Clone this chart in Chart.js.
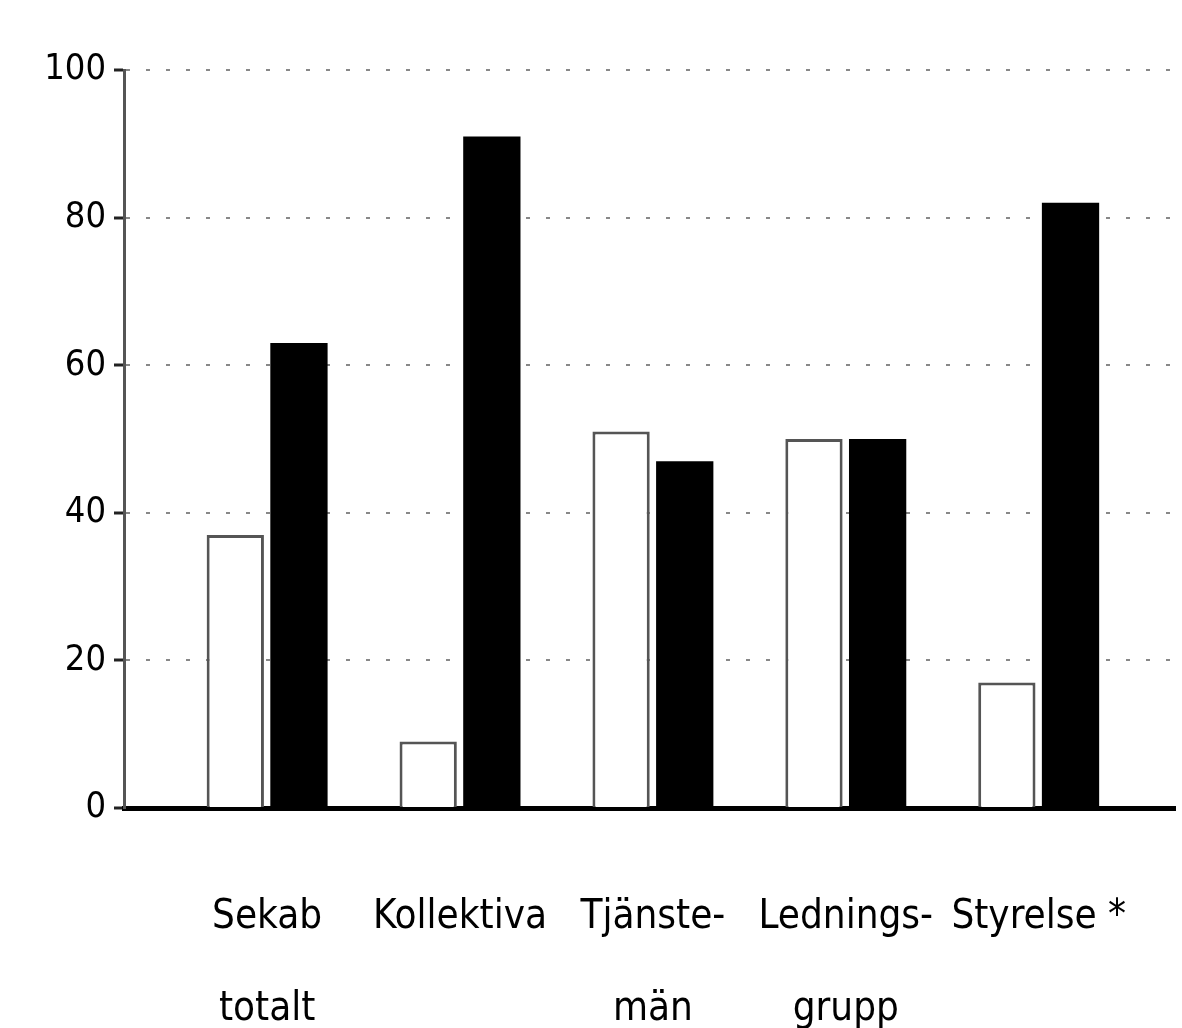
<!DOCTYPE html>
<html>
<head>
<meta charset="utf-8">
<script src="https://cdn.jsdelivr.net/npm/chart.js@4"></script>
<style>
  html, body { margin: 0; padding: 0; background: #fff; }
  #wrap { width: 1182px; height: 1028px; }
</style>
</head>
<body>
<div id="wrap"><canvas id="myChart"></canvas></div>
<script>
// categories (two-line labels as in the original)
const categories = [['Sekab', 'totalt'], ['Kollektiva'], ['Tjänste-', 'män'], ['Lednings-', 'grupp'], ['Styrelse *']];
// white bars and black bars, in percent
const whiteValues = [37, 9, 51, 50, 17];
const blackValues = [63, 91, 47, 50, 82];
const yTicks = [0, 20, 40, 60, 80, 100];

const font = "'Liberation Sans Narrow', 'DejaVu Sans Condensed', sans-serif";

function points(vals) {
  return vals.map(function (v, i) { return { x: i, y: v }; });
}

var ctx = document.getElementById('myChart').getContext('2d');
var myChart = new Chart(ctx, {
  type: 'bar',
  data: {
    datasets: [{
      data: points(whiteValues),
      backgroundColor: '#fff',
      borderColor: '#555',
      borderWidth: 3,
      borderSkipped: 'bottom',
      categoryPercentage: 0.66,
      barPercentage: 0.9
    }, {
      data: points(blackValues),
      backgroundColor: '#000',
      borderWidth: 0,
      categoryPercentage: 0.66,
      barPercentage: 0.9
    }]
  },
  options: {
    responsive: true,
    maintainAspectRatio: false,
    animation: false,
    layout: { padding: { top: 70, right: 0, bottom: 0, left: 0 } },
    plugins: {
      legend: { display: false },
      tooltip: { enabled: false }
    },
    scales: {
      x: {
        type: 'linear',
        offset: false,
        min: -0.742,
        max: 4.711,
        afterBuildTicks: function (scale) {
          scale.ticks = categories.map(function (c, i) { return { value: i }; });
        },
        afterFit: function (scale) { scale.height = 220; },
        grid: { display: false, offset: false },
        border: { display: true, color: '#000', width: 5 },
        ticks: {
          autoSkip: false,
          maxRotation: 0,
          padding: 56,
          color: '#000',
          font: { family: font, size: 40, lineHeight: 2.3 },
          callback: function (v) { return categories[v] || ''; }
        }
      },
      y: {
        min: 0,
        max: 100,
        afterBuildTicks: function (scale) {
          scale.ticks = yTicks.map(function (v) { return { value: v }; });
        },
        afterFit: function (scale) { scale.width = 124; },
        // in v4 border.dash is used for the grid lines, the axis line stays solid
        border: { display: true, color: '#555', width: 3, dash: [4, 16] },
        grid: {
          color: function (c) { return c.tick && c.tick.value === 0 ? 'rgba(0,0,0,0)' : '#888'; },
          lineWidth: 2,
          tickColor: '#222',
          tickLength: 10,
          tickWidth: 3
        },
        ticks: {
          padding: 8,
          color: '#000',
          font: { family: font, size: 36 }
        }
      }
    }
  }
});
</script>
</body>
</html>
